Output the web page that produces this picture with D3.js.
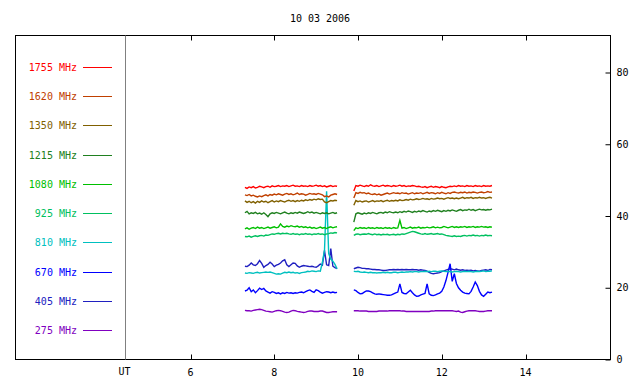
<!DOCTYPE html>
<html>
<head>
<meta charset="utf-8">
<script src="https://cdn.jsdelivr.net/npm/d3@7"></script>
<style>
	body { margin: 0; background: #fff; }
	svg { display: block; }
	text { font-family: "DejaVu Sans Mono", monospace; font-size: 10px; }
</style>
</head>
<body>
<svg id="chart"></svg>
<script>
const title = '10 03 2006';
const freqs = ['1755 MHz', '1620 MHz', '1350 MHz', '1215 MHz', '1080 MHz', '925 MHz', '810 MHz', '670 MHz', '405 MHz', '275 MHz'];
const colors = ['#ff0000', '#c04000', '#806000', '#208020', '#00c000', '#00c060', '#00c0c0', '#0000ff', '#2020c0', '#8000c0'];
const hourTicks = [6, 8, 10, 12, 14];
const valueTicks = [0, 20, 40, 60, 80];

// two recording segments, one sample every 0.05 h
const startA = 7.30, startB = 9.90, step = 0.05;

const r1755a = [48.0,47.7,48.1,47.9,48.2, 47.8,48.0,48.3,48.1,47.9, 48.2,48.3,48.0,48.4,48.2, 48.3,48.5,48.2,48.4,48.3, 48.5,48.2,48.4,48.6,48.3, 48.4,48.2,48.5,48.3,48.4, 48.2,48.5,48.3,48.4,48.6, 48.3,48.5,48.2,48.4,48.1, 48.3,48.5,48.2,48.4,48.3];
const r1755b = [47.0,48.5,48.3,48.6,48.4, 48.2,48.5,48.3,48.7,48.4, 48.3,48.5,48.2,48.4,48.6, 48.3,48.5,48.4,48.2,48.5, 48.3,48.4,48.6,48.3,48.5, 48.2,48.4,48.3,48.5,48.4, 48.2,48.3,48.1,48.0,48.2, 47.9,48.1,48.3,48.0,48.2, 48.1,47.9,48.2,48.0,47.9, 48.1,48.3,48.2,48.4,48.2, 48.5,48.3,48.4,48.2,48.5, 48.3,48.4,48.2,48.5,48.3, 48.4,48.2,48.5,48.3,48.4, 48.3,48.5];

const r1620a = [45.9,45.7,46.0,45.6,45.8, 45.5,45.3,45.6,45.4,45.7, 45.9,45.6,46.0,45.8,46.1, 45.9,46.2,46.0,45.8,46.1, 46.3,46.0,46.2,45.9,46.1, 46.4,46.0,46.2,46.1,45.8, 46.0,46.3,46.1,46.2,46.0, 46.3,46.1,45.9,45.4,45.6, 45.3,45.8,46.0,46.2,46.0];
const r1620b = [45.0,46.5,46.3,46.6,46.4, 46.5,46.2,46.4,46.1,46.0, 46.2,45.9,46.1,45.8,46.0, 46.2,46.4,46.1,46.3,46.5, 46.3,46.4,46.2,46.5,46.3, 46.4,46.1,46.3,46.5,46.2, 46.4,46.3,46.5,46.2,46.4, 46.6,46.3,46.5,46.4,46.2, 46.5,46.3,46.6,46.4,46.2, 46.5,46.3,46.6,46.7,46.5, 46.4,46.6,46.5,46.7,46.4, 46.6,46.5,46.7,46.6,46.4, 46.6,46.7,46.5,46.6,46.8, 46.6,46.7];

const r1350a = [44.2,43.8,44.1,43.7,44.0, 43.6,44.1,43.8,44.2,43.9, 44.1,43.7,44.0,44.3,43.9, 44.2,44.0,44.3,44.1,43.9, 44.2,44.4,44.1,44.3,44.0, 44.3,44.1,44.4,44.2,44.5, 44.3,44.6,44.4,44.7,44.5, 44.8,44.6,44.7,43.9,43.7, 44.0,44.3,44.2,44.4,44.3];
const r1350b = [43.0,44.3,44.0,44.2,43.9, 44.1,44.2,43.9,44.1,44.3, 44.0,44.2,44.1,44.3,44.0, 44.2,44.4,44.1,44.3,44.2, 44.4,44.2,44.5,44.3,44.4, 44.6,44.4,44.7,44.5,44.6, 44.8,44.6,44.7,44.9,44.7, 44.8,44.6,44.9,44.7,44.8, 45.0,44.8,44.9,44.7,44.9, 45.1,44.9,45.0,44.8,45.0, 44.8,45.0,45.2,44.9,45.1, 45.0,45.2,44.9,45.1,45.0, 45.2,45.0,45.1,44.9,45.1, 45.2,45.0];

const r1215a = [40.9,41.3,40.6,40.9,40.7, 41.0,40.6,40.8,40.5,40.9, 40.4,39.8,40.6,40.9,40.7, 41.0,40.8,40.6,40.9,41.1, 40.8,40.6,40.9,40.7,41.0, 40.8,41.1,40.9,40.7,40.9, 41.2,40.9,41.1,40.8,41.0, 40.8,40.6,40.9,40.7,40.9, 40.6,40.8,41.0,40.7,40.9];
const r1215b = [38.3,40.6,40.9,40.7,40.5, 40.8,40.6,40.9,40.7,41.0, 40.8,40.6,40.9,41.0,40.8, 41.1,40.9,41.2,41.0,40.9, 41.1,40.9,41.2,41.0,41.3, 41.1,41.4,41.2,41.0,41.3, 41.1,41.4,41.2,41.5,41.3, 41.1,41.4,41.2,41.5,41.3, 41.6,41.4,41.2,41.5,41.3, 41.6,41.4,41.7,41.5,41.3, 41.6,41.8,41.5,41.7,41.6, 41.9,41.6,41.8,41.5,41.7, 41.9,41.7,41.8,41.6,41.8, 41.7,41.9];

const r1080a = [36.4,36.7,36.3,36.6,36.8, 36.5,36.9,36.6,36.8,36.5, 36.7,36.9,36.6,36.8,37.0, 36.7,36.9,37.8,37.1,36.9, 37.2,37.0,37.3,37.1,37.0, 37.2,36.9,37.1,36.8,37.0, 36.7,36.9,36.6,36.8,36.5, 36.7,36.9,36.6,36.8,36.5, 36.8,37.0,36.7,36.9,37.0];
const r1080b = [35.9,36.7,36.5,36.8,36.6, 36.7,36.5,36.8,36.6,36.7, 36.5,36.8,36.6,36.7,36.5, 36.8,36.6,36.7,36.5,36.8, 36.6,36.7,38.8,36.6,36.8, 36.5,36.7,36.9,36.6,36.8, 36.7,36.9,36.6,36.8,36.7, 36.9,36.7,36.8,37.0,36.7, 36.9,36.7,36.8,37.1,36.9, 36.7,36.9,37.1,36.8,37.0, 36.8,37.0,36.9,37.1,36.8, 37.0,36.9,37.1,36.8,37.0, 36.9,37.1,36.9,37.0,36.8, 37.0,36.9];

const r925a = [34.3,34.2,34.4,34.1,34.3, 34.5,34.3,34.5,34.6,34.4, 34.7,34.6,34.8,35.0,34.9, 35.1,35.2,35.0,35.2,35.1, 35.2,35.0,34.9,35.1,34.9, 35.0,34.8,35.0,34.9,35.1, 34.9,35.0,34.8,35.0,34.9, 35.1,34.9,35.0,34.8,35.0, 35.1,35.3,35.2,35.4,35.3];
const r925b = [34.6,34.9,35.0,34.8,34.9, 35.0,34.9,35.1,34.9,34.8, 35.0,34.8,34.9,34.7,34.9, 34.8,34.9,34.7,34.8,34.9, 34.7,34.9,34.8,35.0,34.9, 35.1,35.3,35.5,35.7,35.6, 35.4,35.2,35.0,34.9,35.1, 34.9,35.0,35.1,34.9,35.0, 35.1,34.9,35.0,34.8,34.6, 34.5,34.4,34.3,34.5,34.3, 34.4,34.3,34.5,34.6,34.4, 34.6,34.5,34.7,34.5,34.6, 34.4,34.6,34.5,34.7,34.5, 34.6,34.5];

const r810a = [24.1,24.0,24.2,24.1,24.0, 24.2,24.3,24.1,24.2,24.3, 24.4,24.3,24.4,24.2,24.0, 23.8,23.9,23.8,24.1,24.3, 24.2,24.4,24.2,24.3,24.1, 24.2,24.0,24.2,24.3,24.4, 24.6,24.5,24.7,24.6,24.5, 24.7,24.6,27.1,30.4,46.9, 29.5,28.0,27.4,26.5,25.3];
const r810b = [24.6,24.5,24.6,24.4,24.3, 24.4,24.3,24.2,24.3,24.2, 24.2,24.1,24.2,24.2,24.3, 24.2,24.3,24.2,24.2,24.3, 24.3,24.2,24.3,24.4,24.3, 24.4,24.4,24.5,24.4,24.5, 24.5,24.4,24.5,24.5,24.6, 24.5,24.6,24.5,24.6,24.6, 24.5,24.6,24.7,24.6,24.5, 24.6,24.5,24.4,24.5,24.6, 24.5,24.4,24.5,24.6,24.5, 24.6,24.5,24.4,24.5,24.6, 24.5,24.6,24.7,24.5,24.6, 24.6,24.7];

const r670a = [19.1,19.3,20.0,18.9,19.4, 18.6,19.2,19.9,19.5,19.8, 19.1,18.8,18.5,18.9,18.7, 18.4,18.6,18.3,18.6,18.4, 18.7,18.5,18.6,18.4,18.6, 18.5,18.7,18.8,18.6,18.9, 19.2,19.4,19.0,18.7,19.4, 19.2,18.8,18.5,18.7,18.9, 18.8,18.6,18.8,18.6,18.7];
const r670b = [19.4,19.2,18.7,18.3,18.4, 18.8,19.1,19.1,18.9,18.6, 18.3,18.2,18.3,18.2,18.1, 18.0,17.9,17.9,18.0,18.3, 18.6,18.8,21.1,18.7,18.4, 18.3,18.8,19.3,18.6,18.0, 17.6,17.7,18.0,18.2,18.4, 21.1,18.3,17.9,17.8,18.0, 18.3,18.5,19.0,20.2,22.0, 24.3,26.7,21.8,23.9,21.2, 20.0,19.3,18.8,18.5,18.4, 18.3,19.0,20.2,21.6,20.6, 19.0,18.0,17.6,18.2,18.8, 18.6,18.8];

const r405a = [26.0,25.9,26.3,26.9,26.4, 26.2,26.7,27.6,26.8,25.7, 26.2,26.5,27.1,26.6,25.9, 26.3,26.5,26.9,27.5,27.8, 26.4,25.9,26.4,26.9,26.8, 26.1,25.7,26.0,26.2,26.1, 26.0,25.9,26.0,25.8,25.7, 26.1,26.6,26.3,30.4,26.4, 26.2,30.9,26.0,25.6,25.3];
const r405b = [25.3,25.5,25.7,25.6,25.4, 25.4,25.3,25.3,25.2,25.1, 25.1,25.0,25.0,24.9,24.8, 24.8,24.9,25.0,25.0,25.1, 25.0,25.1,25.0,25.1,25.0, 25.1,25.0,25.0,25.1,25.0, 25.0,24.9,25.0,24.9,24.8, 24.6,24.3,24.0,23.9,24.0, 24.1,24.2,24.5,24.7,24.9, 25.1,25.3,25.2,25.0,25.2, 25.0,24.9,25.0,24.8,24.9, 24.8,24.9,24.7,24.8,24.7, 24.6,24.8,24.9,25.0,24.8, 25.1,25.0];

const r275a = [13.7,13.6,13.6,13.5,13.7, 13.8,13.9,14.0,13.9,13.7, 13.5,13.4,13.3,13.2,13.4, 13.6,13.7,13.6,13.4,13.2, 13.1,13.2,13.5,13.7,13.6, 13.4,13.3,13.2,13.1,13.2, 13.4,13.5,13.5,13.4,13.4, 13.4,13.5,13.5,13.3,13.1, 13.1,13.2,13.3,13.3,13.3];
const r275b = [13.6,13.6,13.6,13.5,13.5, 13.5,13.5,13.4,13.4,13.4, 13.4,13.4,13.5,13.5,13.5, 13.5,13.5,13.6,13.6,13.6, 13.6,13.6,13.6,13.5,13.5, 13.4,13.4,13.4,13.4,13.4, 13.4,13.4,13.4,13.4,13.4, 13.4,13.4,13.5,13.5,13.6, 13.6,13.6,13.6,13.6,13.6, 13.6,13.6,13.6,13.5,13.4, 13.5,13.2,13.1,13.3,13.5, 13.6,13.6,13.6,13.6,13.5, 13.4,13.4,13.4,13.5,13.6, 13.6,13.6];

const seriesA = [r1755a, r1620a, r1350a, r1215a, r1080a, r925a, r810a, r670a, r405a, r275a];
const seriesB = [r1755b, r1620b, r1350b, r1215b, r1080b, r925b, r810b, r670b, r405b, r275b];

const width = 640, height = 384;
const frame = { left: 15.5, right: 610.5, top: 35.5, bottom: 359.5 };
const utX = 125.5;

const svg = d3.select('#chart').attr('width', width).attr('height', height);

const x = d3.scaleLinear().domain([6, 14]).range([190.5, 525.5]);
const y = d3.scaleLinear().domain([0, 80]).range([frame.bottom, 72.5]);
const legendY = d3.scalePoint().domain(freqs).range([67, 330]);

// title
svg.append('text')
	.attr('x', 320).attr('y', 22)
	.attr('text-anchor', 'middle')
	.text(title);

// frame + UT separator
svg.append('rect')
	.attr('x', frame.left).attr('y', frame.top)
	.attr('width', frame.right - frame.left).attr('height', frame.bottom - frame.top)
	.attr('fill', 'none').attr('stroke', '#000');

svg.append('line')
	.attr('x1', utX).attr('x2', utX)
	.attr('y1', frame.top).attr('y2', frame.bottom)
	.attr('stroke', '#808080');

// hour ticks, top and bottom
const hx = d => Math.round(x(d)) + 0.5;
svg.append('g').selectAll('line.top')
	.data(hourTicks).enter().append('line')
	.attr('x1', hx).attr('x2', hx)
	.attr('y1', frame.top).attr('y2', frame.top + 5)
	.attr('stroke', '#000');
svg.append('g').selectAll('line.bot')
	.data(hourTicks).enter().append('line')
	.attr('x1', hx).attr('x2', hx)
	.attr('y1', frame.bottom).attr('y2', frame.bottom - 5)
	.attr('stroke', '#000');
svg.append('g').selectAll('text')
	.data(hourTicks).enter().append('text')
	.attr('x', d => x(d)).attr('y', 376)
	.attr('text-anchor', 'middle')
	.text(d => d);
svg.append('text')
	.attr('x', utX - 1).attr('y', 375)
	.attr('text-anchor', 'middle')
	.text('UT');

// right value axis
const axisR = d3.axisRight(y).tickValues(valueTicks).tickSize(0).tickPadding(6);
const gR = svg.append('g').attr('transform', `translate(${frame.right},0)`).call(axisR);
gR.select('.domain').remove();
gR.selectAll('text').attr('font-family', null).attr('font-size', null).attr('fill', '#000');
gR.selectAll('.tick').append('line')
	.attr('x1', -5).attr('x2', 0)
	.attr('stroke', '#000');

// legend
const leg = svg.append('g').selectAll('g')
	.data(freqs).enter().append('g')
	.attr('transform', d => `translate(0,${Math.round(legendY(d)) + 0.5})`);
leg.append('text')
	.attr('x', 77).attr('y', 3.5)
	.attr('text-anchor', 'end')
	.attr('fill', (d, i) => colors[i])
	.text(d => d);
leg.append('line')
	.attr('x1', 83).attr('x2', 112)
	.attr('stroke', (d, i) => colors[i]);

// data lines
const lineA = d3.line().x((d, i) => x(startA + i * step)).y(d => y(d));
const lineB = d3.line().x((d, i) => x(startB + i * step)).y(d => y(d));

const plot = svg.append('g');
const order = d3.range(freqs.length).reverse();
order.forEach(k => {
	plot.append('path').datum(seriesA[k])
		.attr('d', lineA)
		.attr('fill', 'none').attr('stroke', colors[k]).attr('stroke-width', 1.4);
	plot.append('path').datum(seriesB[k])
		.attr('d', lineB)
		.attr('fill', 'none').attr('stroke', colors[k]).attr('stroke-width', 1.4);
});
</script>
</body>
</html>
